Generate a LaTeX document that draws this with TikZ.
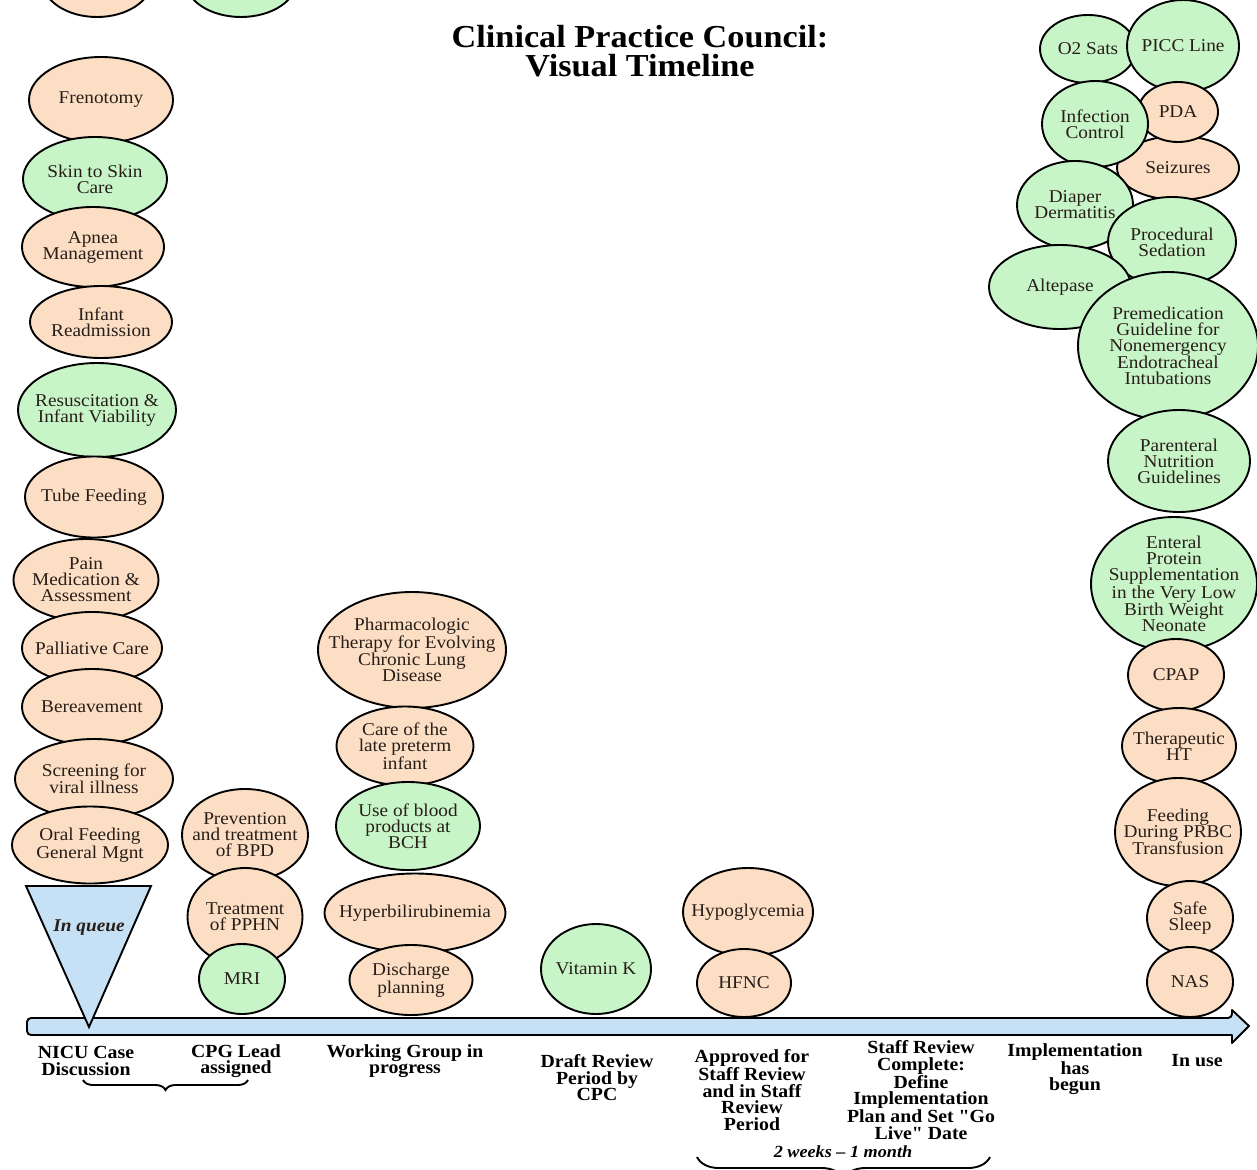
\documentclass[tikz,border=0pt]{standalone}
\usepackage{fontspec}
\setmainfont{Liberation Serif}[FakeStretch=1.07,Ligatures=TeXOff]
\usetikzlibrary{shapes.geometric,decorations.pathreplacing}
\definecolor{peach}{RGB}{252,222,196}
\definecolor{mint}{RGB}{200,245,200}
\definecolor{sky}{RGB}{198,224,246}
\definecolor{ink}{RGB}{40,30,25}
\tikzset{
  bub/.style 2 args={ellipse,draw,line width=1.9pt,inner sep=-20pt,align=center,
    minimum width=#1,minimum height=#2,text=ink,font=\fontsize{18}{16}\selectfont},
  stage/.style={align=center,font=\fontsize{18.5}{16.5}\selectfont\bfseries},
  bar/.style={draw,line width=1.9pt,fill=sky,line join=round},
}
\begin{document}
\begin{tikzpicture}[x=1pt,y=-1pt]
\useasboundingbox (0,0) rectangle (1257,1169);
\clip (0,0) rectangle (1257,1169);
\node[font=\fontsize{32}{29.5}\selectfont\bfseries,align=center] (title) at (640,51) {Clinical Practice Council:\\Visual Timeline};
% in queue
\node[bub={110}{74},fill=peach] (topa) at (97,-20) {};
\node[bub={112}{74},fill=mint] (topb) at (241,-20) {};
\node[bub={144}{86},fill=peach] (freno) at (101,100) {Frenotomy};
\node[bub={144}{84},fill=mint] (skin) at (95,179) {Skin to Skin\\Care};
\node[bub={142}{80},fill=peach] (apnea) at (93,247) {Apnea\\Management};
\node[bub={142}{72},fill=peach] (readm) at (101,322) {Infant\\Readmission};
\node[bub={158}{94},fill=mint] (resus) at (97,410) {Resuscitation \&\\Infant Viability};
\node[bub={138}{81},fill=peach] (tube) at (94,497) {Tube Feeding};
\node[bub={145}{82},fill=peach] (pain) at (86,580) {Pain\\Medication \&\\Assessment};
\node[bub={140}{72},fill=peach] (palli) at (92,648) {Palliative Care};
\node[bub={140}{76},fill=peach] (berea) at (92,707) {Bereavement};
\node[bub={158}{80},fill=peach] (viral) at (94,779) {Screening for\\viral illness};
\node[bub={156}{77},fill=peach] (oral) at (90,845) {Oral Feeding\\General Mgnt};
% lead assigned
\node[bub={126}{92},fill=peach] (bpd) at (245,835) {Prevention\\and treatment\\of BPD};
\node[bub={115}{98},fill=peach] (pphn) at (245,917) {Treatment\\of PPHN};
\node[bub={86}{70},fill=mint] (mri) at (242,979) {MRI};
% working group
\node[bub={188}{116},fill=peach] (lung) at (412,650) {Pharmacologic\\Therapy for Evolving\\Chronic Lung\\Disease};
\node[bub={137}{79},fill=peach] (late) at (405,746) {Care of the\\late preterm\\infant};
\node[bub={144}{88},fill=mint] (blood) at (408,826) {Use of blood\\products at\\BCH};
\node[bub={181}{79},fill=peach] (bili) at (415,913) {Hyperbilirubinemia};
\node[bub={123}{70},fill=peach] (disch) at (411,980) {Discharge\\planning};
% draft review
\node[bub={110}{90},fill=mint] (vitk) at (596,969) {Vitamin K};
% staff review
\node[bub={130}{88},fill=peach] (hypo) at (748,912) {Hypoglycemia};
\node[bub={94}{68},fill=peach] (hfnc) at (744,983) {HFNC};
% in use
\node[bub={96}{68},fill=mint] (otwo) at (1088,49) {O2 Sats};
\node[bub={112}{92},fill=mint] (picc) at (1183,46) {PICC Line};
\node[bub={122}{64},fill=peach] (seiz) at (1178,168) {Seizures};
\node[bub={80}{60},fill=peach] (pda) at (1178,112) {PDA};
\node[bub={106}{86},fill=mint] (infec) at (1095,124) {Infection\\Control};
\node[bub={116}{88},fill=mint] (diap) at (1075,205) {Diaper\\Dermatitis};
\node[bub={128}{90},fill=mint] (sedat) at (1172,242) {Procedural\\Sedation};
\node[bub={142}{84},fill=mint] (altep) at (1060,287) {Altepase};
\node[bub={180}{148},fill=mint] (premed) at (1168,346) {Premedication\\Guideline for\\Nonemergency\\Endotracheal\\Intubations};
\node[bub={142}{102},fill=mint] (paren) at (1179,461) {Parenteral\\Nutrition\\Guidelines};
\node[bub={166}{134},fill=mint] (enter) at (1174,584) {Enteral\\Protein\\Supplementation\\in the Very Low\\Birth Weight\\Neonate};
\node[bub={96}{72},fill=peach] (cpap) at (1176,675) {CPAP};
\node[bub={114}{76},fill=peach] (hypot) at (1179,746) {Therapeutic\\HT};
\node[bub={126}{108},fill=peach] (prbc) at (1178,832) {Feeding\\During PRBC\\Transfusion};
\node[bub={86}{74},fill=peach] (safe) at (1190,918) {Safe\\Sleep};
\node[bub={86}{70},fill=peach] (nas) at (1190,982) {NAS};
% timeline
\draw[bar] (1232,1018) -- (1232,1010) -- (1249,1026) -- (1232,1043) -- (1232,1035)
  [rounded corners=4pt] -- (27,1035) -- (27,1018) -- cycle;
\draw[bar,line join=miter] (26,886) -- (151,886) -- (89,1027) -- cycle;
\node[font=\fontsize{18}{16}\selectfont\bfseries\itshape,text=ink] (queue) at (89,928) {In queue};
\node[stage] (nicu) at (86,1061) {NICU Case\\Discussion};
\node[stage] (cpg) at (236,1061) {CPG Lead\\assigned};
\node[stage] (wg) at (405,1061) {Working Group in\\progress};
\node[stage] (draft) at (597,1078) {Draft Review\\Period by\\CPC};
\node[stage] (appr) at (752,1090) {Approved for\\Staff Review\\and in Staff\\Review\\Period};
\node[stage] (done) at (921,1090) {Staff Review\\Complete:\\Define\\Implementation\\Plan and Set "Go\\Live" Date};
\node[stage] (impl) at (1075,1069) {Implementation\\has\\begun};
\node[stage] (inuse) at (1197,1061) {In use};
\coordinate (bla) at (83,1080);
\coordinate (blb) at (248,1080);
\draw[line width=1.9pt,decorate,decoration={brace,mirror,amplitude=10pt}] (bla) -- (blb);
\coordinate (bra) at (697,1157);
\coordinate (brb) at (990,1157);
\draw[line width=1.9pt,decorate,decoration={brace,mirror,amplitude=22pt}] (bra) -- (brb);
\node[font=\fontsize{17}{16}\selectfont\bfseries\itshape] (span) at (843,1152) {2 weeks – 1 month};
\end{tikzpicture}
\end{document}
